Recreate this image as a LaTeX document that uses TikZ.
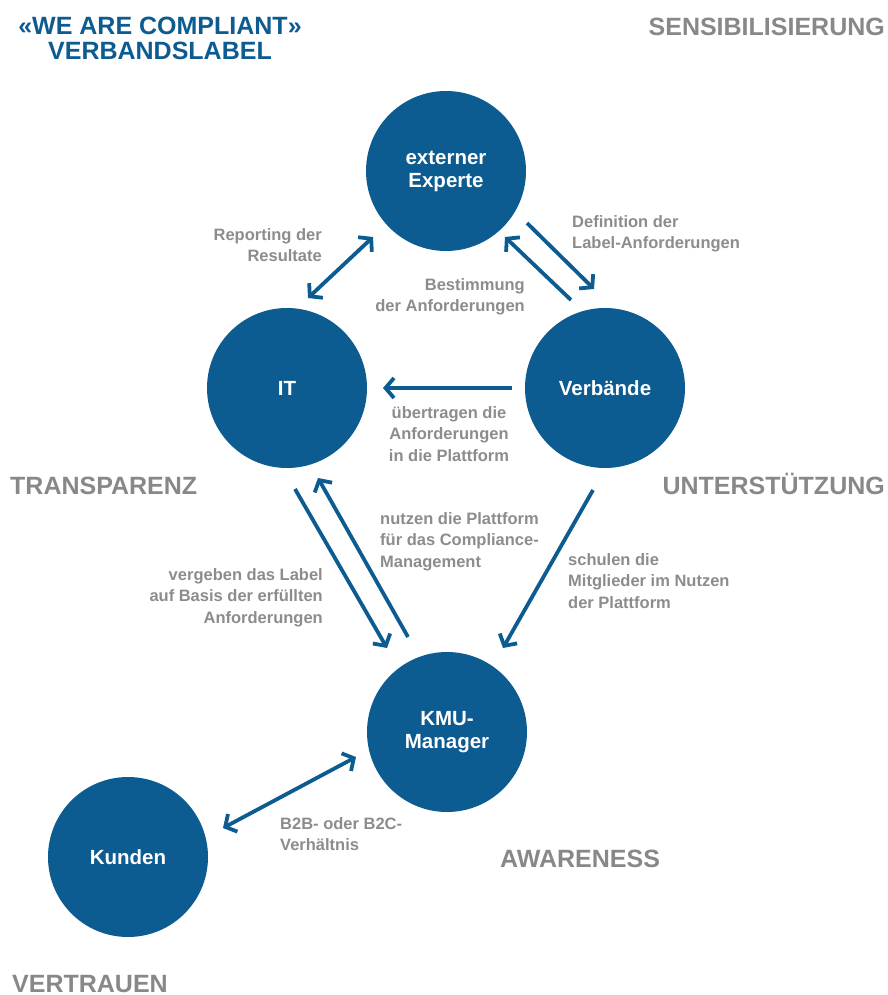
\documentclass[tikz,border=0pt]{standalone}
\usepackage{fontspec}
\setmainfont{Liberation Sans}
\usetikzlibrary{arrows.meta}
\definecolor{bblue}{RGB}{12,91,145}
\definecolor{lgray}{RGB}{140,140,140}
\definecolor{hgray}{RGB}{136,136,136}
\tikzset{
  bub/.style={circle, fill=bblue, minimum size=160pt, inner sep=0pt, text=white,
    font=\bfseries\fontsize{20.5}{23}\selectfont, align=center},
  lbl/.style={text=lgray, inner sep=0pt, font=\bfseries\fontsize{16.5}{21.5}\selectfont},
  big/.style={text=hgray, inner sep=0pt, font=\bfseries\fontsize{25}{25}\selectfont},
  ttl/.style={text=bblue, inner sep=0pt, align=center, font=\bfseries\fontsize{25}{25}\selectfont},
  barb/.tip={Straight Barb[length=8.5pt,width=20pt]},
  arr/.style={draw=bblue, line width=3.8pt, -barb},
  darr/.style={draw=bblue, line width=3.8pt, barb-barb}
}
\begin{document}
\begin{tikzpicture}[x=1pt,y=-1pt]
\useasboundingbox (0,0) rectangle (887,995);
% circles
\node[bub] (E) at (446,171) {externer\\Experte};
\node[bub] (IT) at (287,388) {IT};
\node[bub] (V) at (605,388) {Verbände};
\node[bub] (K) at (447,732) {KMU-\\Manager};
\node[bub] (Ku) at (128,857) {Kunden};
% headings
\node[ttl] (title) at (160,38.5) {«WE ARE COMPLIANT»\\VERBANDSLABEL};
\node[big, anchor=base east] (sens) at (885,36) {SENSIBILISIERUNG};
\node[big, anchor=base west] (trans) at (10,494) {TRANSPARENZ};
\node[big, anchor=base east] (unter) at (885,494) {UNTERSTÜTZUNG};
\node[big, anchor=base west] (aware) at (500,867) {AWARENESS};
\node[big, anchor=base west] (vert) at (12,992) {VERTRAUEN};
% arrow end points
\coordinate (r1) at (308,298); \coordinate (r2) at (373,237);
\coordinate (d1) at (527,223); \coordinate (d2) at (594,289);
\coordinate (b1) at (571,300); \coordinate (b2) at (505,237);
\coordinate (u1) at (512,388); \coordinate (u2) at (383,388);
\coordinate (g1) at (295,489); \coordinate (g2) at (387,648);
\coordinate (n1) at (408,637); \coordinate (n2) at (318,478);
\coordinate (s1) at (593,490); \coordinate (s2) at (503,648);
\coordinate (k1) at (223,828); \coordinate (k2) at (356,757);
% arrows
\draw[darr] (r1) -- (r2);
\draw[arr] (d1) -- (d2);
\draw[arr] (b1) -- (b2);
\draw[arr] (u1) -- (u2);
\draw[arr] (g1) -- (g2);
\draw[arr] (n1) -- (n2);
\draw[arr] (s1) -- (s2);
\draw[darr] (k1) -- (k2);
% labels
\node[lbl, anchor=north east, align=right] (lr) at (322,228) {Reporting der\\Resultate};
\node[lbl, anchor=north west, align=left] (ld) at (572,215) {Definition der\\Label-Anforderungen};
\node[lbl, anchor=north east, align=right] (lb) at (525,278) {Bestimmung\\der Anforderungen};
\node[lbl, anchor=north, align=center] (lu) at (449,406) {übertragen die\\Anforderungen\\in die Plattform};
\node[lbl, anchor=north west, align=left] (ln) at (380,512) {nutzen die Plattform\\für das Compliance-\\Management};
\node[lbl, anchor=north east, align=right] (lg) at (323,568) {vergeben das Label\\auf Basis der erfüllten\\Anforderungen};
\node[lbl, anchor=north west, align=left] (ls) at (568,553) {schulen die\\Mitglieder im Nutzen\\der Plattform};
\node[lbl, anchor=north west, align=left] (lk) at (280,817) {B2B- oder B2C-\\Verhältnis};
\end{tikzpicture}
\end{document}
